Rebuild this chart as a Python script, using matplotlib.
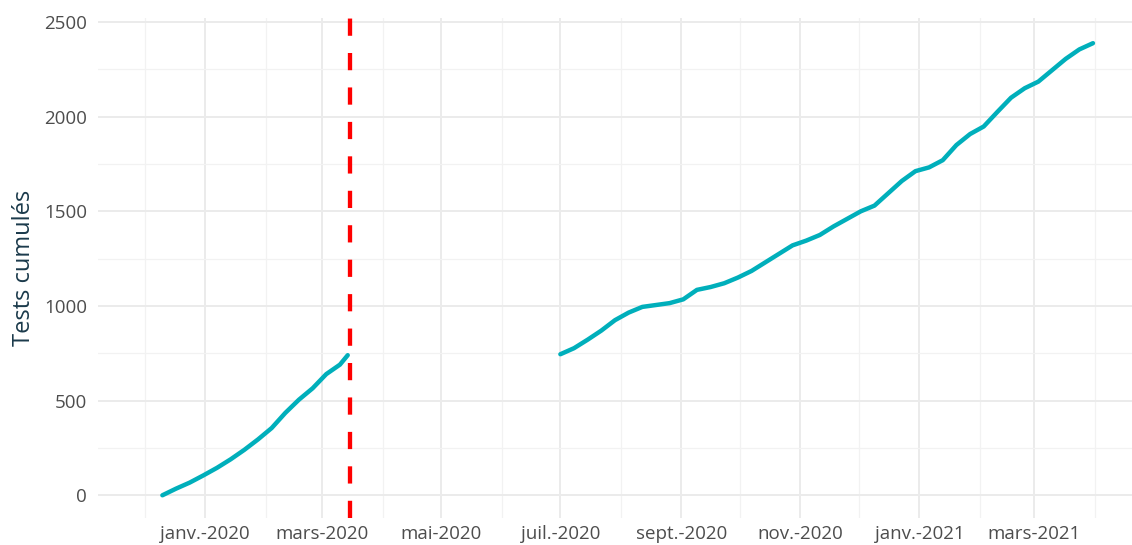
import numpy as np
import pandas as pd
import matplotlib
matplotlib.use("Agg")
import matplotlib.pyplot as plt
import matplotlib.dates as mdates

plt.rcParams['font.family'] = ['Open Sans', 'DejaVu Sans']

# first period, weekly readings of the cumulative count
dates_1 = pd.date_range("2019-12-10", periods=14, freq="7D").append(pd.DatetimeIndex(["2020-03-14"]))
tests_1 = [0, 35, 67, 105, 145, 190, 240, 295, 355, 435, 505, 565, 640, 690, 740]

# second period
dates_2 = pd.date_range("2020-07-01", periods=40, freq="7D")
tests_2 = [745, 777, 822, 870, 925, 965, 995, 1005, 1015, 1035,
           1085, 1100, 1120, 1150, 1185, 1230, 1275, 1320, 1345, 1375,
           1420, 1460, 1500, 1530, 1595, 1660, 1712, 1732, 1770, 1850,
           1908, 1948, 2025, 2100, 2150, 2185, 2245, 2305, 2355, 2388]

event_date = pd.Timestamp("2020-03-15")

major_ticks = pd.to_datetime(["2020-01-01", "2020-03-01", "2020-05-01", "2020-07-01",
                              "2020-09-01", "2020-11-01", "2021-01-01", "2021-03-01"])
major_labels = ["janv.-2020", "mars-2020", "mai-2020", "juil.-2020",
                "sept.-2020", "nov.-2020", "janv.-2021", "mars-2021"]
minor_ticks = pd.to_datetime(["2019-12-01", "2020-02-01", "2020-04-01", "2020-06-01",
                              "2020-08-01", "2020-10-01", "2020-12-01", "2021-02-01",
                              "2021-04-01"])

fig = plt.figure(figsize=(11.32, 5.45), dpi=100)
ax = fig.add_axes([98 / 1132, 27 / 545, 1 - 98 / 1132, 500 / 545])

line_col = "#00AFBB"
ax.plot(dates_1, tests_1, color=line_col, lw=3.2, solid_capstyle="round", zorder=3)
ax.plot(dates_2, tests_2, color=line_col, lw=3.2, solid_capstyle="round", zorder=3)
ax.axvline(event_date, color="#FF0000", lw=3.1, dashes=(4, 4), zorder=4)

ax.set_xlim(pd.Timestamp("2019-11-07"), pd.Timestamp("2021-04-20"))
ax.set_ylim(-120, 2521)

ax.set_xticks(major_ticks)
ax.set_xticklabels(major_labels)
ax.set_xticks(minor_ticks, minor=True)
ax.set_yticks([0, 500, 1000, 1500, 2000, 2500])
ax.set_yticks([250, 750, 1250, 1750, 2250], minor=True)

ax.grid(which="major", color="#EBEBEB", lw=1.4)
ax.grid(which="minor", color="#F2F2F2", lw=0.9)
ax.set_axisbelow(True)
for s in ax.spines.values():
    s.set_visible(False)
ax.tick_params(which="both", length=0)
ax.tick_params(axis="both", labelsize=13.5, labelcolor="#4D4D4D")
ax.tick_params(axis="y", pad=8)
ax.tick_params(axis="x", pad=5)

ax.set_ylabel("Tests cumulés", fontsize=17, color="#1B3A4B", labelpad=6)

fig.savefig("out.png", dpi=100)
